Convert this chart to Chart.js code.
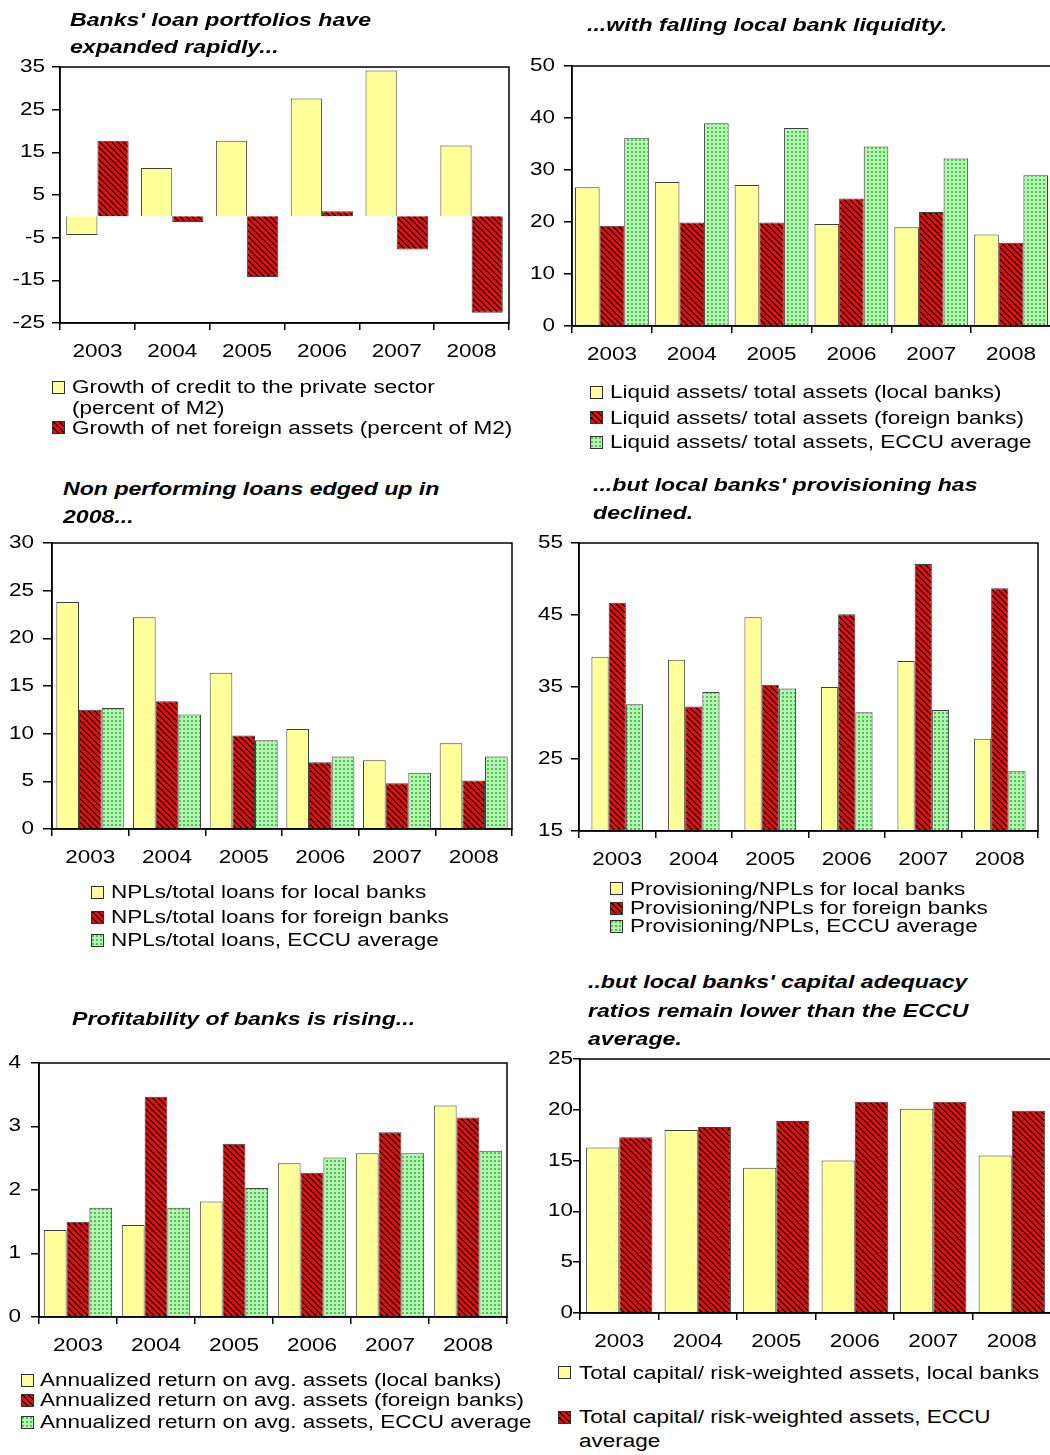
<!DOCTYPE html>
<html>
<head>
<meta charset="utf-8">
<script src="https://cdn.jsdelivr.net/npm/chart.js@4.4.1/dist/chart.umd.min.js"></script>
<style>
  html, body { margin: 0; padding: 0; background: #fff; overflow: hidden; width: 1050px; height: 1455px; }
  #page { position: relative; width: 1050px; height: 1455px; overflow: hidden; }
  .txt { position: absolute; white-space: nowrap; font-family: 'Liberation Sans', Arial, sans-serif; color: #000;
         transform: scaleX(1.25); transform-origin: 0 0; line-height: 1; }
  .ttl { font-weight: bold; font-style: italic; font-size: 18.5px; }
  .leg { font-size: 18px; }
  canvas { position: absolute; }
</style>
</head>
<body>
<div id="page"></div>
<script>
// ---- data ----
const years = ['2003', '2004', '2005', '2006', '2007', '2008'];

const creditGrowth = [-4.4, 11.3, 17.7, 27.6, 34.2, 16.6];
const nfaGrowth    = [17.7, -1.3, -14.2, 1.2, -7.8, -22.6];

const liqLocal   = [26.7, 27.7, 27.1, 19.6, 19.0, 17.6];
const liqForeign = [19.3, 19.9, 19.9, 24.5, 21.9, 16.0];
const liqEccu    = [36.2, 39.0, 38.1, 34.5, 32.2, 29.0];

const nplLocal   = [23.8, 22.2, 16.4, 10.5, 7.2, 9.0];
const nplForeign = [12.5, 13.4, 9.8, 7.0, 4.8, 5.1];
const nplEccu    = [12.7, 12.0, 9.3, 7.6, 5.9, 7.6];

const provLocal   = [39.2, 38.8, 44.7, 35.0, 38.6, 27.8];
const provForeign = [46.7, 32.3, 35.3, 45.1, 52.1, 48.7];
const provEccu    = [32.6, 34.3, 34.8, 31.5, 31.8, 23.3];

const roaLocal   = [1.37, 1.45, 1.82, 2.42, 2.58, 3.33];
const roaForeign = [1.50, 3.47, 2.73, 2.27, 2.91, 3.14];
const roaEccu    = [1.72, 1.72, 2.03, 2.51, 2.58, 2.62];

const carLocal = [16.3, 18.0, 14.3, 15.0, 20.1, 15.5];
const carEccu  = [17.3, 18.3, 18.9, 20.8, 20.8, 19.9];

// ---- fills ----
function makeTile(kind) {
  const c = document.createElement('canvas');
  const g = c.getContext('2d');
  if (kind === 'red') {
    c.width = 6; c.height = 6;
    g.fillStyle = '#ff0000'; g.fillRect(0, 0, 6, 6);
    g.fillStyle = '#000000';
    for (let y = 0; y < 6; y++) for (let x = 0; x < 6; x++) {
      if ((((x - y) % 6) + 6) % 6 < 2) g.fillRect(x, y, 1, 1);
    }
  } else if (kind === 'green') {
    c.width = 4; c.height = 4;
    g.fillStyle = '#b4f5b4'; g.fillRect(0, 0, 4, 4);
    g.fillStyle = '#4cc44c'; g.fillRect(1, 1, 2, 2);
  } else {
    c.width = 2; c.height = 2;
    g.fillStyle = '#ffff99'; g.fillRect(0, 0, 2, 2);
  }
  return c;
}
const tiles = { yellow: makeTile('yellow'), red: makeTile('red'), green: makeTile('green') };
function fillFor(ctx, kind) {
  return kind === 'yellow' ? '#ffff99' : ctx.createPattern(tiles[kind], 'repeat');
}

// text on the canvases is widened to match the HTML labels
function widenText(ctx, sx) {
  const orig = ctx.fillText.bind(ctx);
  ctx.fillText = function (t, x, y, w) {
    this.save();
    this.translate(x, y);
    this.scale(sx, 1);
    if (w === undefined) orig(t, 0, 0); else orig(t, 0, 0, w / sx);
    this.restore();
  };
}

const page = document.getElementById('page');
const STRETCH = 1.25;

function addText(cls, text, x, baseline, size) {
  const d = document.createElement('div');
  d.className = 'txt ' + cls;
  d.textContent = text;
  d.style.left = x + 'px';
  d.style.top = (baseline - 0.8465 * size) + 'px';
  page.appendChild(d);
}

function addSwatch(kind, x, cy) {
  const s = 12;
  const c = document.createElement('canvas');
  c.width = s + 1; c.height = s + 1;
  c.style.left = Math.round(x) + 'px';
  c.style.top = Math.round(cy - s / 2) + 'px';
  const g = c.getContext('2d');
  g.fillStyle = fillFor(g, kind);
  g.fillRect(0.5, 0.5, s, s);
  g.strokeStyle = '#303030'; g.lineWidth = 1;
  g.strokeRect(0.5, 0.5, s, s);
  page.appendChild(c);
}

const framePlugin = {
  id: 'frame',
  afterDatasetsDraw(chart) {
    const a = chart.chartArea, ctx = chart.ctx;
    ctx.save();
    ctx.strokeStyle = '#000'; ctx.lineWidth = 1.5;
    ctx.strokeRect(a.left, a.top, a.right - a.left, a.bottom - a.top);
    ctx.restore();
  }
};

function buildPanel(p) {
  const padL = 70, padT = 40, padR = 6, xH = 60;
  const L = Math.round(p.L), T = Math.round(p.T);
  const pw = Math.round(p.R - p.L), ph = Math.round(p.B - p.T);
  const cv = document.createElement('canvas');
  cv.width = pw + padL + padR;
  cv.height = ph + padT + xH;
  cv.style.left = (L - padL) + 'px';
  cv.style.top = (T - padT) + 'px';
  page.appendChild(cv);
  const ctx = cv.getContext('2d');
  widenText(ctx, STRETCH);

  const font = { family: "'Liberation Sans', Arial, sans-serif", size: 18 };
  new Chart(ctx, {
    type: 'bar',
    data: {
      labels: years,
      datasets: p.series.map(s => ({
        data: s.data,
        backgroundColor: fillFor(ctx, s.fill),
        borderColor: '#404040',
        borderWidth: 1,
        categoryPercentage: p.cat,
        barPercentage: 1
      }))
    },
    options: {
      responsive: false,
      animation: false,
      devicePixelRatio: 1,
      layout: { padding: { left: 0, top: padT, right: padR, bottom: 0 } },
      plugins: { legend: { display: false }, tooltip: { enabled: false } },
      scales: {
        x: {
          offset: true,
          grid: { display: true, drawOnChartArea: false, offset: true, tickLength: 7,
                  color: '#000', lineWidth: 1.5 },
          border: { display: true, color: '#000', width: 1.5, z: 1 },
          ticks: { font, color: '#000', padding: 11, maxRotation: 0, autoSkip: false },
          afterFit: s => { s.height = xH; }
        },
        y: {
          min: p.min, max: p.max,
          grid: {
            drawOnChartArea: !!p.zero,
            color: c => (c.tick && c.tick.value === 0) ? '#000' : 'rgba(0,0,0,0)',
            tickColor: '#000', tickLength: p.yTick, lineWidth: 1.5
          },
          border: { display: true, color: '#000', width: 1.5, z: 1 },
          ticks: { stepSize: p.step, font, color: '#000', padding: p.yPad },
          afterFit: s => { s.width = padL; }
        }
      }
    },
    plugins: [framePlugin]
  });

  p.title.lines.forEach(l => addText('ttl', l[0], p.title.x, l[1], 18.5));
  p.legend.rows.forEach(r => {
    addText('leg', r.t, p.legend.tx, r.b, 18);
    if (r.f) addSwatch(r.f, p.legend.sx, r.b - 6.5);
  });
}

const panels = [
  { L: 60, T: 66.7, R: 508.5, B: 322.7, min: -25, max: 35, step: 10, cat: 0.834, yPad: 7, yTick: 8, zero: true,
    series: [{ data: creditGrowth, fill: 'yellow' }, { data: nfaGrowth, fill: 'red' }],
    title: { x: 70, lines: [["Banks' loan portfolios have", 26.7], ['expanded rapidly...', 53.3]] },
    legend: { sx: 52, tx: 72, rows: [
      { t: 'Growth of credit to the private sector', b: 393.2, f: 'yellow' },
      { t: '(percent of M2)', b: 413.8 },
      { t: 'Growth of net foreign assets (percent of M2)', b: 433.8, f: 'red' } ] } },
  { L: 571.7, T: 65.7, R: 1051, B: 325.7, min: 0, max: 50, step: 10, cat: 0.925, yPad: 9, yTick: 8,
    series: [{ data: liqLocal, fill: 'yellow' }, { data: liqForeign, fill: 'red' }, { data: liqEccu, fill: 'green' }],
    title: { x: 586.7, lines: [['...with falling local bank liquidity.', 31.7]] },
    legend: { sx: 590, tx: 609.5, rows: [
      { t: 'Liquid assets/ total assets (local banks)', b: 398.2, f: 'yellow' },
      { t: 'Liquid assets/ total assets (foreign banks)', b: 423.8, f: 'red' },
      { t: 'Liquid assets/ total assets, ECCU average', b: 448.2, f: 'green' } ] } },
  { L: 52.3, T: 542.7, R: 512.7, B: 829, min: 0, max: 30, step: 5, cat: 0.887, yPad: 9, yTick: 9,
    series: [{ data: nplLocal, fill: 'yellow' }, { data: nplForeign, fill: 'red' }, { data: nplEccu, fill: 'green' }],
    title: { x: 63.3, lines: [['Non performing loans edged up in', 496], ['2008...', 524]] },
    legend: { sx: 90.7, tx: 111, rows: [
      { t: 'NPLs/total loans for local banks', b: 898.2, f: 'yellow' },
      { t: 'NPLs/total loans for foreign banks', b: 923.2, f: 'red' },
      { t: 'NPLs/total loans, ECCU average', b: 946.5, f: 'green' } ] } },
  { L: 579.3, T: 542.7, R: 1038.3, B: 830.3, min: 15, max: 55, step: 10, cat: 0.675, yPad: 8, yTick: 8,
    series: [{ data: provLocal, fill: 'yellow' }, { data: provForeign, fill: 'red' }, { data: provEccu, fill: 'green' }],
    title: { x: 593.3, lines: [["...but local banks' provisioning has", 491.7], ['declined.', 519.3]] },
    legend: { sx: 610, tx: 629.5, rows: [
      { t: 'Provisioning/NPLs for local banks', b: 894.8, f: 'yellow' },
      { t: 'Provisioning/NPLs for foreign banks', b: 914.2, f: 'red' },
      { t: 'Provisioning/NPLs, ECCU average', b: 932.5, f: 'green' } ] } },
  { L: 39.3, T: 1062.7, R: 507.3, B: 1316.3, min: 0, max: 4, step: 1, cat: 0.876, yPad: 10, yTick: 8,
    series: [{ data: roaLocal, fill: 'yellow' }, { data: roaForeign, fill: 'red' }, { data: roaEccu, fill: 'green' }],
    title: { x: 71.7, lines: [['Profitability of banks is rising...', 1026]] },
    legend: { sx: 21, tx: 40, rows: [
      { t: 'Annualized return on avg. assets (local banks)', b: 1386.5, f: 'yellow' },
      { t: 'Annualized return on avg. assets (foreign banks)', b: 1406.5, f: 'red' },
      { t: 'Annualized return on avg. assets, ECCU average', b: 1428.2, f: 'green' } ] } },
  { L: 580, T: 1059.3, R: 1051, B: 1313.3, min: 0, max: 25, step: 5, cat: 0.845, yPad: 0, yTick: 7,
    series: [{ data: carLocal, fill: 'yellow' }, { data: carEccu, fill: 'red' }],
    title: { x: 588.3, lines: [["..but local banks' capital adequacy", 988.3], ['ratios remain lower than the ECCU', 1017.3], ['average.', 1046]] },
    legend: { sx: 558.3, tx: 578.5, rows: [
      { t: 'Total capital/ risk-weighted assets, local banks', b: 1378.8, f: 'yellow' },
      { t: 'Total capital/ risk-weighted assets, ECCU', b: 1423, f: 'red' },
      { t: 'average', b: 1447 } ] } }
];

panels.forEach(buildPanel);
</script>
</body>
</html>
